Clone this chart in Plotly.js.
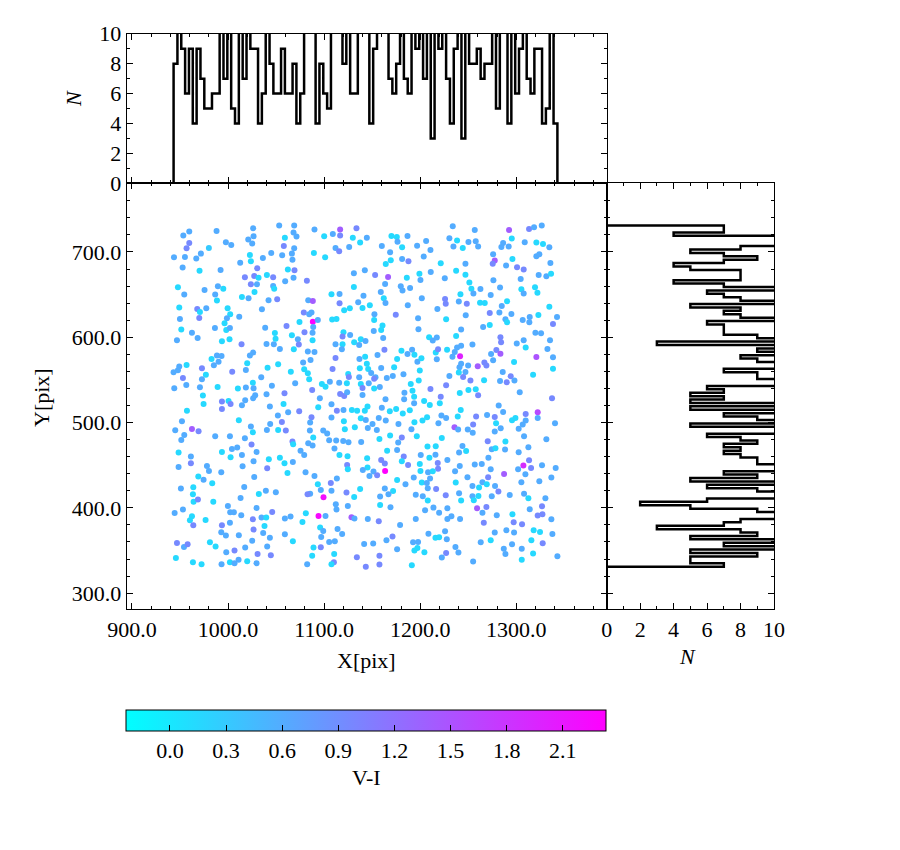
<!DOCTYPE html>
<html><head><meta charset="utf-8">
<script src="https://cdn.plot.ly/plotly-3.0.1.min.js"></script>
<style>html,body{margin:0;padding:0;background:#fff}#chart{width:900px;height:850px}</style>
</head><body><div id="chart"></div>
<script>
// ---- star positions (pixel coordinates of the detector) and colour V-I ----
const starX = [
// upper-left block
959.6,953.4,988.0,1026.1,1053.2,1068.8,959.6,956.8,980.0,997.7,
1003.3,1021.0,1026.5,1025.1,1059.1,1068.1,1071.2,1058.0,1068.8,943.7,
955.1,966.9,971.7,1022.7,1036.2,1044.9,1056.3,1066.4,1067.0,952.7,
970.3,992.2,1012.6,1023.7,1030.3,1062.2,1069.1,1017.5,1027.2,1031.7,
1040.4,1046.9,1068.1,1059.4,1023.7,1030.0,1046.9,1048.0,947.8,975.5,
989.4,995.0,1027.5,954.4,986.6,988.4,1014.4,1021.3,1042.1,1051.1,
949.2,967.9,970.7,977.3,999.5,1002.2,1011.6,1035.2,949.9,970.0,
998.8,996.3,1078.8,951.3,962.4,986.3,998.1,1001.9,1038.6,1060.8,
1074.3,1048.7,1079.5,1066.4,946.8,968.3,993.6,1001.5,1014.0,1040.0,
1047.6,1049.4,1053.9,1072.6,1073.6,1068.4,982.8,988.4,993.2,990.1,
985.2,1026.1,1022.7,1019.9,949.2,956.8,947.8,943.3,972.8,953.0,
976.9,972.8,1004.3,1018.5,1041.1,1052.1,1078.1,1079.2,1065.3,1034.5,
1025.8,944.0,956.5,970.7,989.1,1010.2,1018.5,1026.5,1045.6,1069.8,
973.8,1028.2,1040.0,1058.7,
// upper-middle block
1089.9,1100.0,1109.0,1116.6,1116.6,1133.6,1129.8,1144.4,1137.4,1111.8,
1115.6,1126.0,1089.3,1101.0,1170.0,1175.6,1186.7,1176.3,1160.0,1181.1,
1168.6,1196.7,1206.1,1210.6,1203.6,1230.3,1164.1,1169.3,1181.1,1187.7,
1221.3,1082.0,1130.9,1142.3,1153.0,1166.5,1186.0,1199.1,1200.2,1210.9,
1225.5,1163.4,1130.9,1179.7,1181.5,1189.4,1158.9,1107.6,1116.0,1140.9,
1162.0,1163.8,1201.6,1225.8,1226.5,1083.4,1088.2,1116.0,1135.4,1147.5,
1139.9,1120.8,1126.7,1187.0,1217.8,1152.3,1174.5,1084.4,1086.8,1088.2,
1093.4,1108.3,1112.8,1152.0,1197.7,1226.9,1160.7,1088.6,1087.9,1120.1,
1119.1,1127.0,1151.6,1159.3,1198.1,1087.9,1111.8,1119.1,1131.2,1138.1,
1143.0,1136.4,1161.4,1118.4,1209.2,1213.0,1217.2,1083.0,1089.9,1111.8,
1162.7,1155.5,1136.7,1142.6,1144.4,1180.4,1186.7,1191.5,1193.9,1175.9,
1197.0,1201.2,1216.1,1218.5,1227.9,1217.2,1085.8,1083.0,1084.4,1108.7,
1137.1,1145.8,1148.9,1159.3,1172.8,1199.5,1153.4,1152.0,1125.0,1125.7,
1136.4,1165.2,1171.4,1182.5,1198.4,1230.3,1105.9,1097.6,1101.4,1115.6,
1123.6,1138.1,1146.4,1139.9,1152.0,1157.9,1190.1,1191.9,1183.5,1193.6,
1210.6,1226.9,1087.5,1116.6,1120.8,1123.9,1139.9,1221.3,
// upper-right block
1233.8,1256.7,1292.4,1313.2,1318.4,1326.4,1238.3,1234.5,1244.2,1250.1,
1257.7,1260.2,1286.2,1284.4,1292.0,1295.2,1308.7,1320.8,1327.7,1334.3,
1275.8,1277.5,1275.4,1295.9,1289.3,1300.7,1307.6,1320.8,1323.9,1335.4,
1247.0,1237.3,1247.0,1323.2,1331.2,1336.1,1304.5,1276.1,1251.1,1253.2,
1262.6,1283.0,1305.2,1307.6,1319.4,1321.9,1241.8,1255.3,1273.3,1240.1,
1248.4,1262.2,1267.1,1290.3,1284.8,1334.3,1247.3,1272.3,1282.3,1294.8,
1288.6,1290.3,1306.6,1313.9,1313.5,1322.9,1342.3,1338.1,1265.4,1272.3,
1242.5,1237.3,1319.8,1325.7,1283.4,1284.1,1242.5,1238.3,1235.9,1233.5,
1254.3,1279.2,1283.4,1273.7,1300.4,1307.6,1309.7,1335.0,1332.3,1241.4,
1320.8,1338.1,1275.8,1297.6,1242.5,1240.8,1249.8,1259.8,1266.7,1268.8,
1240.1,1247.0,1244.6,1338.1,1285.8,1294.1,1317.4,1252.2,1266.4,1283.0,
1290.0,1298.0,1250.1,1257.7,1241.1,1260.2,1303.5,
// lower-left block
993.6,1000.5,1002.6,993.6,974.5,1014.4,1017.8,1026.1,957.2,1011.2,
952.0,945.0,962.4,969.3,954.4,951.3,986.6,1001.9,1017.5,1023.7,
1025.8,1043.5,1051.8,1056.0,1062.5,1074.0,1043.8,1040.4,1052.1,1060.1,
1057.7,1067.0,1067.7,1024.4,948.5,961.3,961.3,948.5,993.6,1004.0,
1009.5,1002.6,1014.4,1029.6,1026.5,1042.4,1053.9,1058.7,1067.4,1075.4,
1079.2,978.0,980.1,992.9,1015.1,1040.7,1061.8,1080.6,969.0,974.5,
983.5,1027.2,950.9,963.8,963.4,964.1,968.6,984.6,1016.8,1013.0,
1032.0,1039.3,1049.7,944.4,953.0,962.4,960.3,963.8,976.6,999.8,
1002.2,1006.0,1013.7,1001.9,993.6,992.9,997.7,1011.2,1025.8,1029.6,
1034.8,1039.7,1037.9,1045.9,1059.1,1065.0,1077.4,1026.5,1036.5,1043.5,
1059.1,1025.1,1040.7,1067.4,946.8,954.1,957.9,981.1,987.0,998.1,
1006.7,1017.8,1030.7,1044.5,945.7,963.4,972.4,993.2,1001.9,1006.7,
1010.9,1019.9,1029.6,
// lower-middle block
1095.5,1163.8,1183.2,1204.0,1209.9,1220.3,1093.8,1107.6,1113.2,1120.1,
1128.8,1134.3,1142.3,1145.1,1160.0,1168.3,1174.9,1181.8,1189.1,1193.6,
1086.8,1107.6,1120.5,1138.1,1143.3,1150.3,1156.8,1164.1,1085.4,1085.1,
1099.0,1088.6,1103.1,1121.5,1131.9,1145.4,1154.8,1177.3,1193.9,1202.3,
1207.1,1222.0,1226.9,1218.9,1190.8,1083.4,1087.9,1105.2,1112.5,1119.8,
1125.3,1138.5,1157.5,1168.6,1180.8,1177.0,1196.4,1222.4,1110.7,1115.9,
1124.3,1144.7,1145.1,1123.9,1124.6,1140.2,1147.1,1151.3,1155.1,1159.3,
1163.1,1163.4,1165.5,1175.9,1182.8,1180.8,1187.3,1199.5,1200.5,1209.5,
1207.5,1216.1,1215.8,1218.2,1218.5,1228.2,1200.2,1208.1,1213.0,1089.9,
1113.2,1106.9,1093.4,1096.5,1107.6,1085.4,1082.7,1123.2,1099.3,1131.2,
1137.4,1163.1,1171.7,1166.9,1158.2,1175.9,1184.6,1193.2,1201.6,1206.8,
1207.8,1210.2,1216.5,1195.3,1202.6,1207.8,1226.5,1112.1,1112.8,1124.6,
1158.2,1169.0,1080.9,1094.1,1101.4,1128.4,1131.5,1145.4,1156.8,1179.0,
1195.3,1205.0,1213.7,1219.6,1228.2,1228.2,1095.8,1099.0,1096.9,1113.9,
1118.7,1105.2,1111.1,1141.6,1151.0,1164.8,1171.1,1175.9,1192.5,1197.7,
1193.9,1197.0,1204.3,1208.5,1215.8,1219.6,1225.8,1227.6,1088.9,1096.5,
1087.5,1110.4,1110.1,1107.6,1082.3,1134.0,1143.3,1157.5,1157.5,1191.2,
1222.4,1226.9,
// lower-right block
1337.1,1242.1,1239.0,1258.1,1269.5,1277.5,1281.6,1286.2,1309.7,1322.2,
1322.2,1295.5,1299.0,1309.7,1306.6,1302.4,1278.9,1283.7,1277.5,1235.6,
1239.4,1249.4,1255.0,1254.6,1340.2,1308.0,1331.2,1270.2,1288.6,1243.9,
1247.7,1240.4,1274.4,1278.2,1288.2,1312.5,1302.4,1270.9,1313.2,1307.3,
1315.3,1301.8,1309.4,1326.7,1340.9,1241.1,1256.7,1264.0,1236.2,1273.3,
1287.2,1249.1,1270.6,1236.9,1254.3,1264.7,1269.2,1277.8,1261.2,1281.3,
1305.2,1323.9,1336.4,1240.4,1254.3,1260.5,1255.7,1242.5,1274.4,1293.1,
1308.0,1312.5,1330.2,1326.7,1313.9,1259.1,1268.8,1264.7,1232.4,1241.4,
1279.6,1295.9,1322.2,1327.1,1336.4,1266.1,1297.2,1305.9,1289.6,1297.6,
1277.5,1318.0,1324.6,1337.5,1262.9,1273.3,1295.5,1286.9,1305.6,1315.6,
1327.4,1236.6,1239.7,1288.6,1317.4,1305.6,1342.7,1255.0
];

const starY = [
723.9,719.2,724.6,727.8,730.9,730.9,710.6,704.3,704.7,711.4,
708.2,714.5,718.4,709.8,716.8,722.7,718.0,707.1,704.3,693.8,
694.2,692.2,698.1,696.5,693.0,698.8,696.1,698.1,691.0,681.7,
678.1,678.9,687.5,689.1,680.9,679.3,678.5,670.3,671.9,669.9,
673.1,670.3,669.9,665.6,662.1,662.1,660.2,657.0,658.6,655.5,
659.8,657.0,653.1,650.0,650.0,643.0,647.3,645.7,643.4,644.5,
634.8,633.2,629.7,634.0,634.0,626.9,624.2,632.8,621.5,622.6,
622.3,616.4,628.9,609.0,605.4,610.9,608.6,610.9,611.3,613.3,
617.9,605.0,605.8,602.3,596.5,599.2,595.3,597.6,591.8,592.2,
591.8,598.4,586.3,597.6,591.4,585.9,574.6,578.5,578.1,571.4,
567.1,582.0,578.5,569.5,565.6,567.5,561.3,559.0,563.6,552.3,
556.2,550.7,559.7,561.7,564.4,568.3,570.3,562.5,559.7,553.1,
546.8,540.2,544.1,541.4,541.7,539.8,541.0,540.2,543.3,546.0,
531.6,532.0,533.1,534.3,
726.2,718.4,721.1,726.2,719.2,727.8,716.8,716.8,711.0,704.7,
700.8,705.9,698.8,693.8,718.8,717.6,718.8,712.1,707.1,705.5,
699.6,707.4,712.9,702.4,694.6,716.0,686.0,690.3,691.8,689.1,
686.7,666.4,675.0,678.5,673.1,670.7,669.9,674.6,667.2,676.6,
669.1,662.5,659.0,659.8,654.7,657.8,653.1,650.4,650.8,648.8,
645.7,640.2,645.7,644.9,639.4,643.4,642.6,639.8,641.0,637.5,
634.4,631.6,634.0,637.5,633.2,626.9,626.5,626.9,628.9,618.3,
620.3,620.7,621.5,620.3,622.3,621.1,613.7,612.1,605.4,605.8,
600.8,602.7,607.4,608.6,609.4,596.5,591.8,591.8,594.1,597.6,
595.7,591.0,599.2,585.9,600.0,596.1,599.6,583.2,582.8,575.7,
585.5,579.3,574.6,577.3,569.1,584.3,580.4,585.5,579.6,574.6,
571.4,575.4,582.0,585.9,585.5,574.2,573.4,557.8,550.7,562.9,
563.6,562.9,558.2,564.0,564.8,560.9,553.1,551.5,557.0,553.5,
553.1,552.3,554.6,556.6,549.2,554.6,548.0,545.3,542.1,546.8,
546.0,545.3,546.0,540.6,539.8,541.7,545.3,537.4,535.1,530.4,
539.4,543.7,538.2,533.5,531.2,535.5,532.4,530.4,
730.1,725.8,725.8,727.0,728.9,730.9,713.3,706.3,704.7,711.7,
712.5,706.3,710.6,705.9,706.3,715.7,711.4,711.0,709.4,705.5,
697.3,689.9,686.3,691.8,684.0,682.0,679.3,695.0,697.3,687.1,
686.3,678.1,673.4,673.1,671.5,674.6,668.4,666.8,664.1,657.0,
656.6,658.2,656.2,651.2,658.6,652.3,650.4,651.2,649.6,641.8,
639.4,640.6,640.2,642.2,636.7,635.9,625.8,628.5,628.9,627.3,
621.1,617.6,620.3,623.8,617.6,626.2,623.8,615.6,612.1,614.4,
609.0,601.5,605.4,604.7,600.0,594.1,590.2,587.9,582.8,577.3,
591.4,585.1,580.8,580.4,592.6,596.5,587.9,596.5,586.3,577.7,
576.9,576.5,573.0,571.1,569.1,564.8,566.8,566.0,570.3,566.8,
558.6,559.3,553.5,563.2,559.3,554.3,556.2,549.2,549.6,548.8,
547.2,549.2,538.2,539.0,534.7,532.0,535.5,
524.6,525.4,521.8,516.0,521.8,520.3,526.1,528.5,514.0,502.7,
501.5,491.0,492.5,489.8,485.5,479.6,483.9,483.9,481.6,495.3,
488.6,518.7,508.2,500.7,512.1,513.3,498.4,491.4,491.4,490.6,
521.8,477.7,474.6,474.2,464.8,460.1,452.3,448.0,465.6,469.1,
470.7,459.3,462.1,465.6,454.6,457.0,458.9,452.3,453.8,467.1,
462.1,449.2,443.3,441.7,448.8,446.4,441.0,441.7,436.7,433.1,
428.8,436.3,422.6,424.1,415.9,407.3,409.7,407.3,424.5,411.6,
416.3,420.2,418.3,394.1,398.0,390.1,385.5,379.6,385.9,402.3,
394.8,394.8,391.3,382.7,379.6,371.4,367.5,367.9,386.6,399.9,
388.6,388.6,378.8,395.2,387.4,389.8,383.5,374.5,370.6,365.1,
369.0,361.6,354.6,360.8,358.9,354.2,357.3,359.7,354.6,347.9,
349.9,353.4,346.0,344.4,341.3,336.2,333.9,333.9,336.2,335.0,
339.3,337.4,335.0,
528.5,527.3,527.3,525.4,520.7,522.6,517.9,521.5,514.0,514.8,
514.8,514.0,514.0,518.7,517.5,513.3,516.0,510.5,514.4,522.6,
506.2,505.8,501.5,505.0,503.1,498.4,505.4,502.3,500.0,490.6,
490.6,482.4,487.1,492.1,494.5,493.7,491.4,498.4,500.4,502.3,
506.2,508.2,505.4,499.2,492.1,475.7,473.0,479.2,478.9,478.5,
476.9,477.3,480.8,484.7,482.4,476.5,483.9,482.0,469.5,462.1,
460.5,458.1,447.2,450.3,445.2,444.5,437.4,442.5,438.2,456.2,
451.9,443.3,467.1,467.9,460.1,454.6,450.3,451.5,462.1,458.9,
471.8,472.2,462.4,452.7,446.0,456.2,443.3,441.7,442.9,437.4,
434.3,429.2,427.7,421.0,420.2,416.7,415.9,417.9,412.4,412.8,
422.2,422.6,419.8,415.9,413.2,432.7,427.7,435.5,429.6,429.2,
423.0,434.3,422.2,415.5,413.6,408.5,414.8,404.2,398.0,402.3,
403.4,400.7,393.7,390.5,390.5,389.0,387.4,387.0,384.3,380.0,
387.0,397.2,400.3,394.4,399.5,387.0,376.9,373.0,365.9,375.3,
369.4,360.1,360.8,357.7,358.1,362.0,366.3,351.5,359.7,360.1,
349.9,353.0,347.9,369.8,365.0,365.5,372.6,363.2,353.4,353.8,
344.0,346.0,336.2,333.9,333.9,342.1,331.1,344.0,333.5,332.7,
341.7,347.2,
528.5,514.8,507.0,507.0,509.0,506.6,519.9,512.5,510.1,512.1,
505.4,502.7,505.4,502.3,497.6,492.9,499.2,493.3,489.4,494.5,
491.8,491.8,497.6,488.2,499.2,483.9,480.4,478.1,477.7,472.6,
466.7,464.8,468.7,469.9,468.3,471.0,465.2,458.9,455.8,449.6,
446.8,445.3,439.4,449.9,446.8,449.2,450.7,451.5,442.9,445.3,
439.8,435.9,435.9,429.6,425.7,430.0,427.7,425.7,423.8,419.1,
430.0,431.2,435.5,417.1,413.6,414.0,408.9,408.5,413.6,415.2,
416.7,411.3,411.3,401.9,398.4,399.5,401.1,394.4,390.1,387.0,
391.3,392.5,391.0,392.5,386.6,382.7,383.1,380.8,373.7,371.0,
371.0,373.7,371.8,369.4,359.7,362.0,357.3,352.2,352.2,362.0,
358.5,354.2,347.6,346.0,346.4,339.3,343.3,337.0
];

const starVI = [
.6,.6,.6,.6,.6,.6,.95,.95,.3,.6,
.6,.6,.6,.6,.15,.6,.6,.95,.6,.6,
.6,.6,.6,.15,.6,.6,.6,.6,.6,.6,
.15,.6,.6,.15,.95,.15,.95,.95,.95,.15,
.15,.95,.6,.6,.95,.6,.6,.15,.15,.6,
.6,.15,.15,.6,.6,.15,.15,.6,.6,.95,
.15,.95,.15,.6,.15,.15,.6,.6,.6,.95,
.6,.15,.95,.15,.6,.6,.15,.6,.6,.95,
.15,.15,.95,.15,.6,.6,.15,.15,.95,.6,
.6,.15,.6,.6,.95,.15,.15,.6,.6,.6,
.6,.6,.6,.15,.6,.15,.6,.6,.95,.95,
.15,.6,.95,.6,.15,.15,.6,.15,.15,.6,
.15,.6,.6,.6,.15,.15,.6,.6,.6,.6,
.15,.6,.6,.95,
.6,.15,.6,1.4,.95,.95,.15,.6,.15,.6,
.95,.6,.15,.15,.15,.15,.6,.6,.6,.15,
.6,.6,.6,.6,.6,.6,.15,.15,.6,.95,
.15,.95,.6,.6,.95,1.4,.15,.15,.6,.6,
.6,.6,.15,.6,.6,.6,.6,.15,.6,.6,
.15,.6,.6,.95,.95,.6,1.4,.95,.6,.15,
.15,.15,.15,.6,.6,.6,.95,.6,.6,2.3,
.6,.15,.15,.15,.6,.15,.15,.6,.6,.15,
.95,.6,.6,.15,.6,.15,.6,.15,.15,.15,
.6,.6,.6,.6,.15,.6,.6,.6,.6,.95,
.95,.6,.6,.15,.15,.15,.6,.6,.15,.15,
.6,.15,.15,.95,.15,.6,.6,.15,.15,.95,
.15,.15,.6,.6,.15,.15,.6,.95,.15,.95,
.6,.6,.6,.6,.15,.6,.6,.15,.15,.6,
.15,.15,.6,.95,.15,.6,.15,.15,.6,.15,
.95,.95,.95,.95,.95,.6,.6,.95,
.6,.6,1.4,.95,.6,.6,.15,.6,.15,.6,
.6,.6,.6,.6,.6,.15,.6,.15,.15,.6,
.6,1.4,.95,.15,.6,.95,.95,.6,.6,.6,
.6,.15,.15,.6,.6,.15,.6,.6,.15,.15,
.6,.6,.15,.6,.15,.15,.15,.6,.6,.6,
.95,.15,.15,.15,.6,.15,.6,.95,.6,.6,
.6,.15,.6,.6,.6,.15,.6,.95,.6,.15,
.6,.15,.6,.6,.95,.95,.6,.6,.6,.6,
.6,.95,1.4,.6,.6,.6,.15,.6,.6,2.0,
1.5,.6,.6,.15,.6,.6,.6,1.4,.95,.95,
.15,.6,.95,.15,.6,.95,.15,.95,.15,.6,
.95,.6,.15,.15,.15,.95,.6,
.95,.15,.95,.95,.15,.6,.6,.6,.15,.15,
.6,.6,1.4,.95,.6,.6,.6,.6,.6,.6,
.15,.6,.6,.95,.6,.95,.6,.6,.15,.95,
.15,.95,.15,.95,.15,.6,.95,.6,.15,.6,
.6,.15,.6,.6,.6,.15,.15,.15,.6,.6,
.6,.6,.6,.6,.6,.95,.15,.6,.15,.6,
.15,.6,.6,.15,.15,.15,.95,.15,.6,.6,
.15,.6,.6,.6,.6,.15,.15,.95,.15,.6,
.6,.6,.6,.6,.95,.6,.6,.6,.95,.6,
.6,.15,.15,.95,.6,.6,.15,.95,.6,.6,
.6,.6,.6,.15,.95,.6,.95,.15,.15,.6,
.95,.6,.95,.95,.15,.15,.15,.6,.15,.6,
.6,.15,.6,
.6,.6,.6,.15,.15,.15,.15,.6,.95,.6,
.15,.15,.15,.15,.6,.15,.15,.15,.15,.6,
.95,.6,.15,.15,.6,.6,.6,.6,.6,.6,
.6,.15,.6,.15,.15,.6,.6,.6,.15,.15,
.15,.6,.6,.6,.6,.6,.6,.6,.6,.6,
.6,.6,.15,.15,.95,.6,.15,.15,.6,.15,
.15,.15,.15,.95,.15,.6,.6,.6,.95,.95,
.95,2.33,.15,.6,.95,.15,.95,.15,.6,.15,
.15,.15,.6,.95,.95,.6,.15,.6,.15,.6,
.6,.95,.15,.6,.6,.6,.95,.95,2.2,.15,
.15,.6,.15,.6,.6,.15,.6,.6,.15,.6,
.6,.6,.95,.6,.6,.15,.95,.6,.6,.6,
.15,.6,.15,2.25,.6,1.4,.6,.6,.95,.6,
.6,.6,.6,.6,.6,.6,.15,.6,.6,.6,
.6,.6,.6,.6,.6,.6,.95,.6,.6,.6,
.15,.15,.15,.6,.15,.15,.6,.6,.15,.95,
.15,.15,.95,.15,.6,.95,.95,.95,.95,.15,
.6,.95,
.95,.15,.15,.95,.6,.95,.6,.6,.95,1.6,
.6,.15,.15,.6,.6,.6,.15,.6,.6,1.4,
.6,.6,.95,.6,.6,.6,.6,.95,.15,.6,
.15,.6,.6,.15,.6,.6,.6,.6,.95,1.9,
.95,.6,.6,.6,.6,.6,.6,.6,.6,.6,
1.4,.6,.95,.15,.6,.6,.15,.6,.15,.95,
.6,.6,.6,.6,.6,.15,.15,.15,.6,.6,
.6,.15,.6,.95,.6,1.4,.95,.6,.6,.6,
.6,.15,.95,.95,.6,.95,.95,.95,.6,.6,
.6,.15,.15,.6,.6,.15,.6,.6,.6,.15,
.95,.6,.6,.6,.15,.15,.6,.6
];

// ---- histogram counts (100 bins each; >10 is off-scale) ----
const xHistCounts = [
8,11,9,6,9,4,9,7,5,5, 6,6,11,7,11,5,4,11,7,11,
9,9,4,6,11,8,6,6,9,6, 6,8,4,6,11,11,11,4,8,6,
5,11,11,11,8,11,6,6,11,11, 11,4,9,11,11,11,7,6,8,11,
7,6,11,9,11,7,11,3,11,9, 11,7,4,9,11,3,11,8,8,9,
7,8,8,11,5,11,11,4,11,6, 9,11,7,6,9,9,4,5,11,4
];
const yHistCounts = [ // from low Y to high Y
7,5,5,9,5,11,7,11,5,9, 8,3,7,8,11,11,9,5,2,6,
11,11,9,6,11,5,9,7,11,11, 9,9,8,7,8,7,9,8,6,11,
11,5,11,9,7,11,5,11,5,7, 5,7,6,11,11,9,9,7,11,11,
9,8,11,9,11,3,11,9,7,7, 7,6,11,8,7,8,5,11,8,7,
6,11,7,4,8,8,8,5,4,7, 9,7,5,8,11,11,11,4,7,7
];

const cbTickVals = [0.0, 0.3, 0.6, 0.9, 1.2, 1.5, 1.8, 2.1];
const cbTickText = ['0.0','0.3','0.6','0.9','1.2','1.5','1.8','2.1'];
const viRange = [-0.233, 2.333];

// ---- build step outlines from the counts ----
function binEdges(vals, n) {
  const lo = Math.min(...vals), hi = Math.max(...vals);
  const e = [];
  for (let i = 0; i <= n; i++) e.push(lo + (hi - lo) * i / n);
  return e;
}
const ex = binEdges(starX, xHistCounts.length);
const ey = binEdges(starY, yHistCounts.length);
const topX = [ex[0]], topY = [0];
xHistCounts.forEach((c, i) => { topX.push(ex[i]); topY.push(c); });
topX.push(ex[ex.length - 1]); topY.push(0);
const rX = [0], rY = [ey[0]];
yHistCounts.forEach((c, i) => { rX.push(c); rY.push(ey[i]); });
rX.push(0); rY.push(ey[ey.length - 1]);

const FONT = 'Liberation Serif, DejaVu Serif, serif';
const tf = {family: FONT, size: 22, color: 'black'};

const scatter = {
  type: 'scatter', mode: 'markers', x: starX, y: starY, xaxis: 'x', yaxis: 'y',
  marker: {
    size: 6, color: starVI, cmin: viRange[0], cmax: viRange[1],
    colorscale: [[0, 'rgb(0,255,255)'], [1, 'rgb(255,0,255)']],
    line: {width: 0}, showscale: true,
    colorbar: {
      orientation: 'h', x: 0.4071, xanchor: 'center', y: 0.1647, yanchor: 'top',
      len: 0.5331, lenmode: 'fraction', thickness: 21, thicknessmode: 'pixels',
      xpad: 0, ypad: 0, outlinecolor: 'black', outlinewidth: 1,
      tickmode: 'array', tickvals: cbTickVals, ticktext: cbTickText,
      ticks: 'inside', ticklen: 6, tickcolor: 'black', tickfont: tf,
      title: {text: 'V-I', side: 'bottom', font: tf}
    }
  },
  hoverinfo: 'skip'
};
const topHist = {type: 'scatter', mode: 'lines', x: topX, y: topY, xaxis: 'x2', yaxis: 'y2',
  line: {shape: 'hv', color: 'black', width: 2.5}, hoverinfo: 'skip'};
const rightHist = {type: 'scatter', mode: 'lines', x: rX, y: rY, xaxis: 'x3', yaxis: 'y3',
  line: {shape: 'vh', color: 'black', width: 2.5}, hoverinfo: 'skip'};

const common = {
  showline: true, linecolor: 'black', linewidth: 1, mirror: 'allticks',
  ticks: 'inside', ticklen: 6, tickwidth: 1, tickcolor: 'black',
  showgrid: false, zeroline: false, tickfont: tf, fixedrange: true
};
const xDom = [0.14078, 0.67411], yDom = [0.28318, 0.78435];
const xR = [894.5, 1394], yR = [281.1, 780.5];

const layout = {
  width: 900, height: 850, margin: {l: 0, r: 0, t: 0, b: 0},
  paper_bgcolor: 'white', plot_bgcolor: 'white', showlegend: false,
  xaxis: Object.assign({}, common, {domain: xDom, range: xR, anchor: 'y',
    tickmode: 'linear', tick0: 900, dtick: 100, tickformat: '.1f',
    minor: {tick0: 900, dtick: 20, ticks: 'inside', ticklen: 3, tickcolor: 'black'}}),
  yaxis: Object.assign({}, common, {domain: yDom, range: yR, anchor: 'x',
    tickmode: 'linear', tick0: 300, dtick: 100, tickformat: '.1f',
    minor: {tick0: 300, dtick: 20, ticks: 'inside', ticklen: 3, tickcolor: 'black'}}),
  xaxis2: Object.assign({}, common, {domain: xDom, range: xR, anchor: 'y2', showticklabels: false,
    tickmode: 'linear', tick0: 900, dtick: 100,
    minor: {tick0: 900, dtick: 20, ticks: 'inside', ticklen: 3, tickcolor: 'black'}}),
  yaxis2: Object.assign({}, common, {domain: [0.78435, 0.96024], range: [0, 10], anchor: 'x2',
    tickmode: 'linear', tick0: 0, dtick: 2,
    minor: {tick0: 0, dtick: 1, ticks: 'inside', ticklen: 3, tickcolor: 'black'}}),
  xaxis3: Object.assign({}, common, {domain: [0.67411, 0.86], range: [0, 10], anchor: 'y3',
    tickmode: 'linear', tick0: 0, dtick: 2,
    minor: {tick0: 0, dtick: 1, ticks: 'inside', ticklen: 3, tickcolor: 'black'}}),
  yaxis3: Object.assign({}, common, {domain: yDom, range: yR, anchor: 'x3', showticklabels: false,
    tickmode: 'linear', tick0: 300, dtick: 100,
    minor: {tick0: 300, dtick: 20, ticks: 'inside', ticklen: 3, tickcolor: 'black'}}),
  annotations: [
    {text: 'X[pix]', xref: 'paper', yref: 'paper', x: 0.4067, y: 0.2235, showarrow: false,
     xanchor: 'center', yanchor: 'middle', font: tf},
    {text: 'Y[pix]', xref: 'paper', yref: 'paper', x: 0.0467, y: 0.5318, showarrow: false,
     textangle: -90, xanchor: 'center', yanchor: 'middle', font: tf},
    {text: '<i>N</i>', xref: 'paper', yref: 'paper', x: 0.0811, y: 0.8847, showarrow: false,
     textangle: -90, xanchor: 'center', yanchor: 'middle', font: tf},
    {text: '<i>N</i>', xref: 'paper', yref: 'paper', x: 0.7644, y: 0.2271, showarrow: false,
     xanchor: 'center', yanchor: 'middle', font: tf}
  ]
};

Plotly.newPlot('chart', [scatter, topHist, rightHist], layout, {displayModeBar: false, staticPlot: true});
</script>
</body></html>
